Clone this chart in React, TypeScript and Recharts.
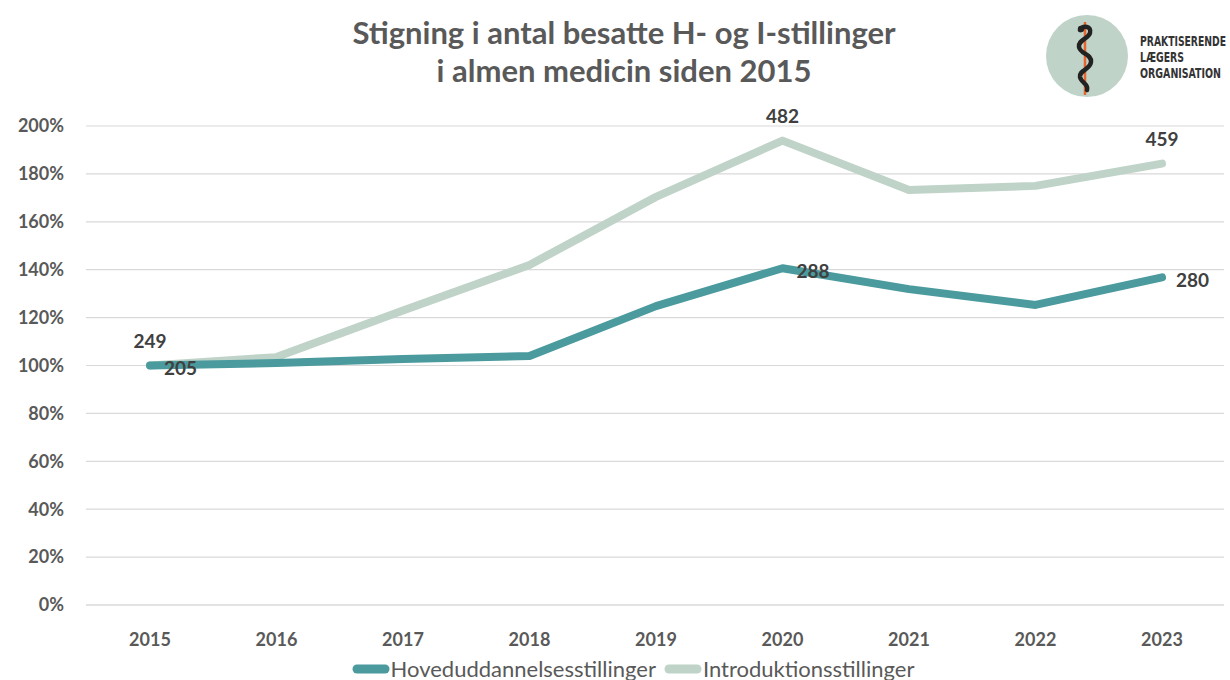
import React from 'react';
import { LineChart, Line, XAxis, YAxis, CartesianGrid, Legend, LabelList } from 'recharts';

const years = ['2015', '2016', '2017', '2018', '2019', '2020', '2021', '2022', '2023'];
const hovedPct = [100, 101, 102.7, 104, 124.8, 140.6, 131.9, 125.3, 136.8];
const introPct = [100, 103.5, 123, 142, 170.4, 193.9, 173.3, 175, 184.3];
const hovedLabels: (number | null)[] = [205, null, null, null, null, 288, null, null, 280];
const introLabels: (number | null)[] = [249, null, null, null, null, 482, null, null, 459];
const yTicks = [0, 20, 40, 60, 80, 100, 120, 140, 160, 180, 200];

const HOVED = '#4a9a9e';
const INTRO = '#bfd3c8';
const FONT = 'Lato, "Open Sans", sans-serif';

const data = years.map((y, i) => ({
  year: y,
  hoved: hovedPct[i],
  intro: introPct[i],
  hovedLabel: hovedLabels[i],
  introLabel: introLabels[i],
}));

const IntroLabel = (props: any) => {
  const { x, y, index } = props;
  const v = introLabels[index];
  if (v == null) return null;
  return (
    <text x={x} y={y - 25} textAnchor="middle" dominantBaseline="central" fill="#404040" fontSize={19} fontWeight={700} fontFamily={FONT}>
      {v}
    </text>
  );
};

const HovedLabel = (props: any) => {
  const { x, y, index } = props;
  const v = hovedLabels[index];
  if (v == null) return null;
  return (
    <text x={x + 14} y={y + 2} textAnchor="start" dominantBaseline="central" fill="#404040" fontSize={19} fontWeight={700} fontFamily={FONT}>
      {v}
    </text>
  );
};

const LegendContent = () => (
  <div style={{ display: 'flex', justifyContent: 'center', alignItems: 'center', fontFamily: FONT, fontSize: 22, color: '#595959', paddingLeft: 44 }}>
    {[
      { name: 'Hoveduddannelsesstillinger', color: HOVED },
      { name: 'Introduktionsstillinger', color: INTRO },
    ].map((it) => (
      <div key={it.name} style={{ display: 'flex', alignItems: 'center', marginRight: 8 }}>
        <svg width={38} height={12} style={{ marginRight: 1 }}>
          <line x1={5} y1={6} x2={33} y2={6} stroke={it.color} strokeWidth={9} strokeLinecap="round" />
        </svg>
        <span>{it.name}</span>
      </div>
    ))}
  </div>
);

const Logo = () => (
  <svg width={1230} height={110} style={{ position: 'absolute', left: 0, top: 0, pointerEvents: 'none' }}>
    <circle cx={1087} cy={56} r={41} fill="#bfd3c8" />
    <line x1={1085} y1={22} x2={1085} y2={95} stroke="#e8642c" strokeWidth={2.5} />
    <path
      d="M1080 30 C1083 25 1092 26 1090 33 C1088 39 1078 40 1079 47 C1080 54 1092 54 1091 62 C1090 70 1079 70 1080 77 C1081 83 1089 84 1087 90"
      fill="none"
      stroke="#222"
      strokeWidth={4.5}
      strokeLinecap="round"
    />
    <circle cx={1081} cy={29} r={3.2} fill="#222" />
    <g fontFamily='"DejaVu Sans Condensed", "DejaVu Sans", sans-serif' fontWeight={700} fontSize={14} fill="#333">
      <text x={1140} y={46} textLength={86} lengthAdjust="spacingAndGlyphs">PRAKTISERENDE</text>
      <text x={1140} y={62} textLength={44} lengthAdjust="spacingAndGlyphs">LÆGERS</text>
      <text x={1140} y={78} textLength={81} lengthAdjust="spacingAndGlyphs">ORGANISATION</text>
    </g>
  </svg>
);

export default function App() {
  return (
    <div style={{ position: 'absolute', left: 0, top: 0, width: 1230, height: 680, background: '#fff', overflow: 'hidden' }}>
      <div
        style={{
          position: 'absolute',
          left: 0,
          top: 13,
          width: 1248,
          textAlign: 'center',
          fontFamily: FONT,
          fontWeight: 700,
          fontSize: 31,
          lineHeight: '38px',
          color: '#595959',
        }}
      >
        Stigning i antal besatte H- og I-stillinger
        <br />i almen medicin siden 2015
      </div>
      <LineChart width={1230} height={680} data={data} margin={{ top: 126, right: 6, bottom: 45, left: 0 }}>
        <CartesianGrid vertical={false} stroke="#d9d9d9" strokeWidth={1.2} />
        <XAxis
          dataKey="year"
          axisLine={{ stroke: '#d9d9d9' }}
          tickLine={false}
          padding={{ left: 64, right: 62 }}
          tick={{ fill: '#595959', fontSize: 18, fontWeight: 700, fontFamily: FONT }}
          tickMargin={22}
        />
        <YAxis
          width={86}
          domain={[0, 200]}
          ticks={yTicks}
          axisLine={false}
          tickLine={false}
          tickSize={0}
          tickMargin={22}
          tickFormatter={(v: number) => `${v}%`}
          tick={{ fill: '#595959', fontSize: 18, fontWeight: 700, fontFamily: FONT }}
        />
        <Legend verticalAlign="middle" layout="horizontal" wrapperStyle={{ top: 655, left: 0, width: 1230 }} content={<LegendContent />} />
        <Line
          type="linear"
          dataKey="intro"
          stroke={INTRO}
          strokeWidth={8}
          strokeLinecap="round"
          strokeLinejoin="round"
          dot={false}
          activeDot={false}
          isAnimationActive={false}
        >
          <LabelList dataKey="introLabel" content={<IntroLabel />} />
        </Line>
        <Line
          type="linear"
          dataKey="hoved"
          stroke={HOVED}
          strokeWidth={8}
          strokeLinecap="round"
          strokeLinejoin="round"
          dot={false}
          activeDot={false}
          isAnimationActive={false}
        >
          <LabelList dataKey="hovedLabel" content={<HovedLabel />} />
        </Line>
      </LineChart>
      <Logo />
    </div>
  );
}
